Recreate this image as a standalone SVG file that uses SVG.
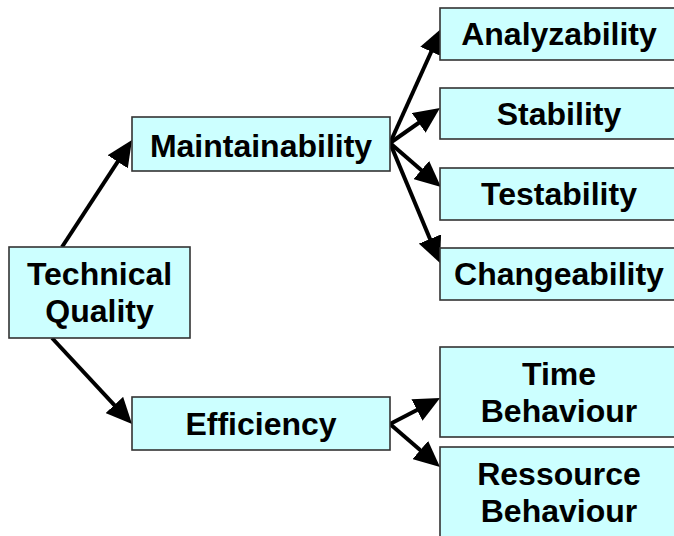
<svg xmlns="http://www.w3.org/2000/svg" width="674" height="536" viewBox="0 0 674 536">
<style>
.box{fill:#CCFFFF;stroke:#333333;stroke-width:1.6}
.t{font-family:"Liberation Sans",Arial,sans-serif;font-weight:bold;font-size:32px;fill:#000;text-anchor:middle}
.c{stroke:#000;stroke-width:4;fill:none;marker-end:url(#ah)}
</style>
<defs>
<marker id="ah" markerUnits="strokeWidth" markerWidth="6.5" markerHeight="6" refX="3" refY="3" orient="auto">
<path d="M0,0 L6.5,3 L0,6 z" fill="#000"/>
</marker>
</defs>
<rect width="674" height="536" fill="#fff"/>
<g id="connectors">
<line class="c" x1="62" y1="247" x2="124.3" y2="151.7"/>
<line class="c" x1="52" y1="338" x2="122.5" y2="413.8"/>
<line class="c" x1="390" y1="143" x2="436.2" y2="40.8"/>
<line class="c" x1="390" y1="143" x2="428.5" y2="116"/>
<line class="c" x1="390" y1="143" x2="430.4" y2="177.9"/>
<line class="c" x1="390" y1="143" x2="434.6" y2="250.1"/>
<line class="c" x1="390" y1="424" x2="427.6" y2="404.5"/>
<line class="c" x1="390" y1="424" x2="429.4" y2="457.9"/>
</g>
<g id="technical-quality">
<rect class="box" x="9" y="247" width="181" height="91"/>
<text class="t" x="99.5" y="285">Technical</text>
<text class="t" x="99.5" y="322">Quality</text>
</g>
<g id="maintainability">
<rect class="box" x="132" y="117" width="258" height="54"/>
<text class="t" x="261" y="156.5">Maintainability</text>
</g>
<g id="efficiency">
<rect class="box" x="132" y="397" width="258" height="53"/>
<text class="t" x="261" y="435">Efficiency</text>
</g>
<g id="analyzability">
<rect class="box" x="440" y="8" width="240" height="52"/>
<text class="t" x="559" y="45">Analyzability</text>
</g>
<g id="stability">
<rect class="box" x="440" y="88" width="240" height="51"/>
<text class="t" x="559" y="124.5">Stability</text>
</g>
<g id="testability">
<rect class="box" x="440" y="168" width="240" height="52"/>
<text class="t" x="559" y="205">Testability</text>
</g>
<g id="changeability">
<rect class="box" x="440" y="248" width="240" height="52"/>
<text class="t" x="559" y="285">Changeability</text>
</g>
<g id="time-behaviour">
<rect class="box" x="440" y="347" width="240" height="90"/>
<text class="t" x="559" y="385">Time</text>
<text class="t" x="559" y="422">Behaviour</text>
</g>
<g id="ressource-behaviour">
<rect class="box" x="440" y="447" width="240" height="100"/>
<text class="t" x="559" y="485">Ressource</text>
<text class="t" x="559" y="522">Behaviour</text>
</g>
</svg>
